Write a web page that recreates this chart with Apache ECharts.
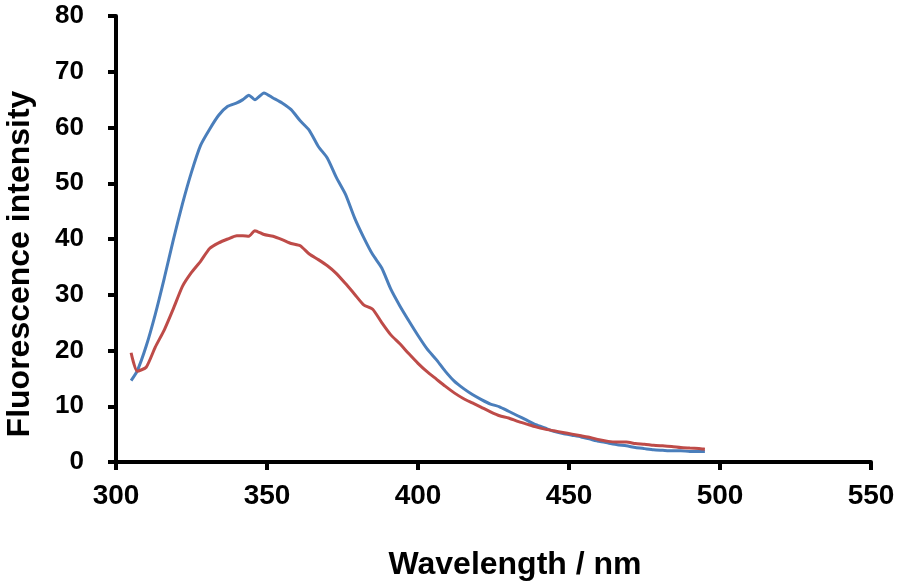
<!DOCTYPE html>
<html lang="en">
<head>
    <meta charset="UTF-8">
    <title>Fluorescence spectra</title>
    <style>
        html, body { margin: 0; padding: 0; background: #fff; }
    </style>
</head>
<body>
    <script src="https://cdn.jsdelivr.net/npm/echarts@6/dist/echarts.min.js"></script>
    <div id="main" style="width: 900px;height:583px;"></div>

    <script>
        // wavelength in nm, shared by both curves
        var wavelengths = [305, 307, 310, 313, 316, 319, 322, 325, 328, 331, 334, 337, 340, 342, 344, 346, 349,
            352, 355, 358, 361, 364, 367, 370, 373, 376, 379, 382, 385, 388, 391, 394, 397, 400,
            403, 406, 409, 412, 415, 418, 421, 424, 427, 430, 433, 436, 439, 442, 445, 448, 451,
            454, 457, 460, 463, 466, 469, 472, 475, 478, 481, 484, 487, 490, 493, 495];

        // blue curve
        var blueValues = [14.6, 16.3, 20.8, 26.5, 33.0, 39.9, 46.3, 52.0, 56.8, 59.7, 62.2, 63.8, 64.4, 65.0, 65.8, 65.0, 66.2,
            65.3, 64.4, 63.2, 61.2, 59.5, 56.6, 54.5, 51.0, 48.0, 43.8, 40.3, 37.2, 34.8, 31.0, 28.0, 25.3, 22.7,
            20.3, 18.4, 16.3, 14.5, 13.2, 12.1, 11.2, 10.4, 9.9, 9.1, 8.3, 7.5, 6.7, 6.1, 5.5, 5.1, 4.8,
            4.5, 4.1, 3.7, 3.4, 3.1, 2.9, 2.6, 2.4, 2.2, 2.1, 2.0, 2.0, 1.9, 1.9, 1.9];

        // red curve
        var redValues = [19.6, 16.3, 17.0, 20.6, 23.7, 27.5, 31.5, 34.0, 36.0, 38.3, 39.3, 40.0, 40.6, 40.6, 40.5, 41.5, 40.8,
            40.5, 39.9, 39.2, 38.8, 37.3, 36.3, 35.2, 33.8, 32.0, 30.1, 28.2, 27.4, 25.0, 22.8, 21.2, 19.4, 17.7,
            16.2, 14.9, 13.6, 12.4, 11.4, 10.6, 9.8, 9.0, 8.3, 7.9, 7.3, 6.8, 6.3, 5.9, 5.6, 5.3, 5.0,
            4.7, 4.4, 4.0, 3.7, 3.6, 3.6, 3.3, 3.2, 3.0, 2.9, 2.8, 2.6, 2.5, 2.4, 2.3];

        var xTitle = 'Wavelength / nm';
        var yTitle = 'Fluorescence intensity';

        function pairs(xs, ys) {
            var out = [];
            for (var i = 0; i < xs.length; i++) {
                out.push([xs[i], ys[i]]);
            }
            return out;
        }

        var myChart = echarts.init(document.getElementById('main'));

        var axisFont = 'Liberation Sans, Arial, sans-serif';

        var option = {
            animation: false,
            grid: { left: 116, right: 29, top: 16, bottom: 121 },
            xAxis: {
                type: 'value',
                min: 300, max: 550, interval: 50,
                splitLine: { show: false },
                axisLine: { onZero: false, lineStyle: { color: '#000', width: 4 } },
                axisTick: { show: true, inside: false, length: 8, lineStyle: { color: '#000', width: 4 } },
                axisLabel: { color: '#000', fontSize: 28, fontWeight: 'bold', fontFamily: axisFont, margin: 20 }
            },
            yAxis: {
                type: 'value',
                min: 0, max: 80, interval: 10,
                splitLine: { show: false },
                axisLine: { show: true, onZero: false, lineStyle: { color: '#000', width: 4 } },
                axisTick: { show: true, inside: false, length: 8, lineStyle: { color: '#000', width: 4 } },
                axisLabel: { color: '#000', fontSize: 26, fontWeight: 'bold', fontFamily: axisFont, margin: 32 }
            },
            graphic: [
                {
                    type: 'text', x: 515, y: 565,
                    style: { text: xTitle, fill: '#000', font: 'bold 32px ' + axisFont,
                        textAlign: 'center', textVerticalAlign: 'middle' }
                },
                {
                    type: 'text', x: 20, y: 264, rotation: Math.PI / 2,
                    style: { text: yTitle, fill: '#000', font: 'bold 32px ' + axisFont,
                        textAlign: 'center', textVerticalAlign: 'middle' }
                }
            ],
            series: [
                {
                    name: 'blue', type: 'line', data: pairs(wavelengths, blueValues),
                    showSymbol: false, smooth: 0.2,
                    lineStyle: { color: '#4a7ebb', width: 3 }
                },
                {
                    name: 'red', type: 'line', data: pairs(wavelengths, redValues),
                    showSymbol: false, smooth: 0.2,
                    lineStyle: { color: '#be4b48', width: 3 }
                }
            ]
        };

        myChart.setOption(option);
    </script>
</body>
</html>
